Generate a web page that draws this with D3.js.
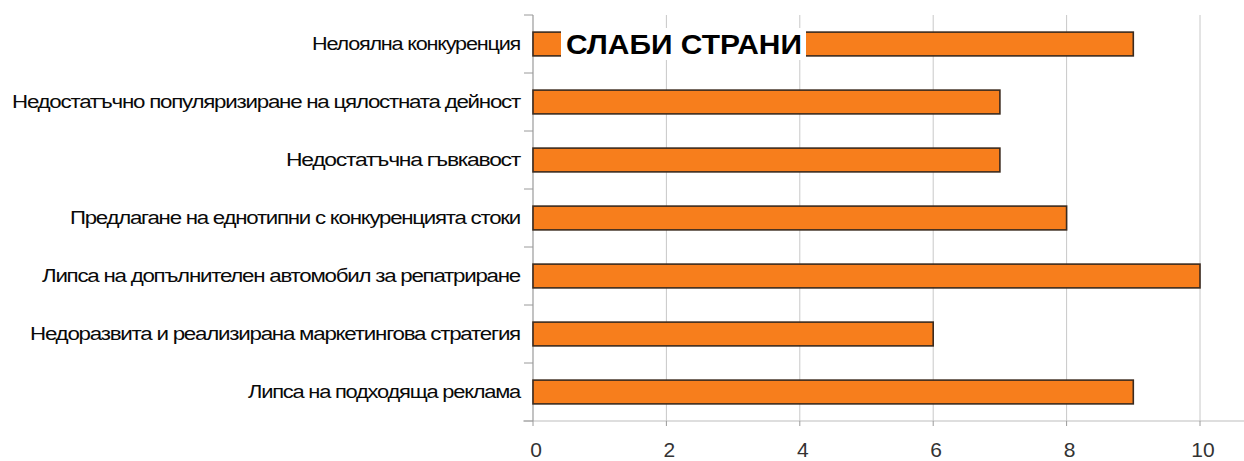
<!DOCTYPE html>
<html><head><meta charset="utf-8">
<script src="https://cdn.jsdelivr.net/npm/d3@7"></script>
<style>body{margin:0;background:#fff}</style>
</head><body>
<svg id="c" width="1244" height="461"></svg>
<script>
const categories = [
  "Нелоялна конкуренция",
  "Недостатъчно популяризиране на цялостната дейност",
  "Недостатъчна гъвкавост",
  "Предлагане на еднотипни с конкуренцията стоки",
  "Липса на допълнителен автомобил за репатриране",
  "Недоразвита и реализирана маркетингова стратегия",
  "Липса на подходяща реклама"
];
const values = [9, 7, 7, 8, 10, 6, 9];
const xTicks = [0, 2, 4, 6, 8, 10];
const title = "СЛАБИ СТРАНИ";
const labelWidths = [208, 508, 234, 450, 478, 490, 272];

(function () {
const svg = d3.select("#c");
const L = 533, R = 1200, T = 15, B = 421;
const x = d3.scaleLinear().domain([0, 10]).range([L, R]);
const y = d3.scaleBand().domain(categories).range([T, B]).paddingInner(0.59).paddingOuter(0.295);

svg.append("g").selectAll("line").data(xTicks.filter(d => d > 0)).join("line")
  .attr("x1", d => x(d)).attr("x2", d => x(d)).attr("y1", T).attr("y2", B)
  .attr("stroke", "#c8c8c8").attr("stroke-width", 1);

svg.append("line").attr("x1", L - 10).attr("x2", 1244).attr("y1", B).attr("y2", B)
  .attr("stroke", "#bdbdbd").attr("stroke-width", 1.2);

svg.append("line").attr("x1", L).attr("x2", L).attr("y1", T).attr("y2", B)
  .attr("stroke", "#9a9a9a").attr("stroke-width", 1.2);

const step = (B - T) / categories.length;
svg.append("g").selectAll("line").data(d3.range(categories.length + 1)).join("line")
  .attr("x1", L - 9).attr("x2", L).attr("y1", i => T + i * step).attr("y2", i => T + i * step)
  .attr("stroke", "#9a9a9a").attr("stroke-width", 1);

svg.append("g").selectAll("line").data(xTicks).join("line")
  .attr("x1", d => x(d)).attr("x2", d => x(d)).attr("y1", B).attr("y2", B + 5)
  .attr("stroke", "#9a9a9a");

svg.append("g").selectAll("rect").data(values).join("rect")
  .attr("x", x(0)).attr("y", (d, i) => y(categories[i]))
  .attr("width", d => x(d) - x(0)).attr("height", y.bandwidth())
  .attr("fill", "#f77e1c").attr("stroke", "#3b2a1e").attr("stroke-width", 1.6);

svg.append("g").selectAll("text").data(categories).join("text")
  .attr("x", 520).attr("y", d => y(d) + y.bandwidth() / 2)
  .attr("text-anchor", "end").attr("dominant-baseline", "central")
  .attr("font-family", "Liberation Sans, Arial, sans-serif").attr("font-size", 18)
  .attr("letter-spacing", -1)
  .attr("textLength", (d, i) => labelWidths[i]).attr("lengthAdjust", "spacingAndGlyphs")
  .attr("fill", "#0a0a0a").text(d => d);

svg.append("g").selectAll("text").data(xTicks).join("text")
  .attr("x", d => x(d) + 3).attr("y", 449)
  .attr("text-anchor", "middle").attr("dominant-baseline", "central")
  .attr("font-family", "Liberation Sans, Arial, sans-serif").attr("font-size", 21)
  .attr("fill", "#333").text(d => d);

const ty = y(categories[0]) + y.bandwidth() / 2;
svg.append("rect").attr("x", 561).attr("y", ty - 16).attr("width", 245).attr("height", 32).attr("fill", "#fff");
svg.append("text").attr("x", 566).attr("y", ty + 1)
  .attr("dominant-baseline", "central")
  .attr("font-family", "Liberation Sans, Arial, sans-serif").attr("font-size", 27).attr("font-weight", "bold")
  .attr("textLength", 236).attr("lengthAdjust", "spacingAndGlyphs")
  .attr("fill", "#000").text(title);
})();
</script>
</body></html>
